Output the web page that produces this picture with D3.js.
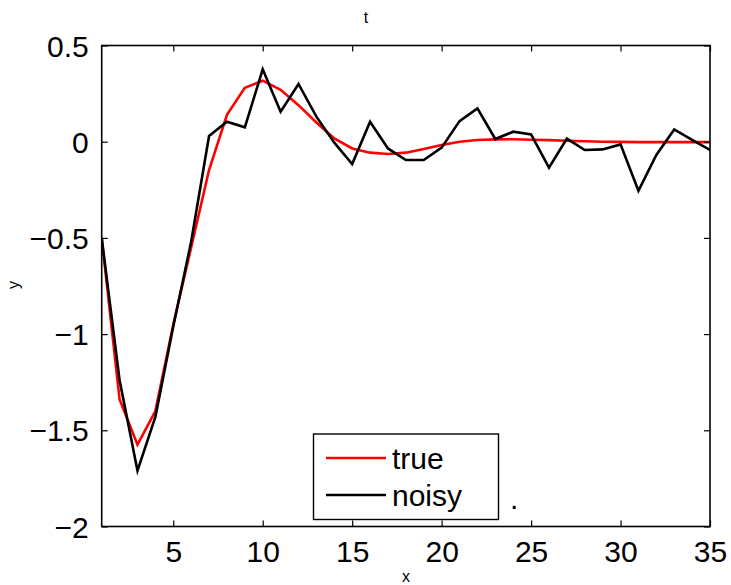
<!DOCTYPE html>
<html><head><meta charset="utf-8">
<script src="https://cdn.jsdelivr.net/npm/d3@7"></script>
<style>body{margin:0;background:#fff}svg{display:block}text{font-family:"Liberation Sans",Arial,sans-serif;fill:#000}</style>
</head><body>
<script>
const tValues = d3.range(1, 36);
const trueValues = [-0.5,-1.34,-1.575,-1.40,-0.95,-0.55,-0.147,0.14,0.28,0.317,0.27,0.19,0.10,0.017,-0.035,-0.057,-0.064,-0.057,-0.038,-0.017,0.0,0.009,0.012,0.013,0.01,0.008,0.005,0.002,0.0,-0.001,-0.002,-0.002,-0.002,-0.002,-0.002];
const noisyValues = [-0.5,-1.24,-1.71,-1.43,-0.96,-0.52,0.03,0.104,0.075,0.376,0.156,0.30,0.13,-0.005,-0.116,0.104,-0.035,-0.095,-0.095,-0.031,0.107,0.173,0.014,0.052,0.038,-0.135,0.016,-0.043,-0.04,-0.014,-0.255,-0.069,0.064,0.009,-0.043];
const xTicks = [5,10,15,20,25,30,35];
const yTicks = [-2,-1.5,-1,-0.5,0,0.5];
const legendLabels = ["true","noisy"];
const seriesColors = ["#ff0000","#000000"];

const W=731,H=585;
const L=101.7,R=710,T=45.5,B=526.5;
const svg=d3.select("body").append("svg").attr("width",W).attr("height",H);
const x=d3.scaleLinear().domain([1,35]).range([L,R]);
const y=d3.scaleLinear().domain([-2,0.5]).range([B,T]);
const fmt=v=>(v<0?"\u2212":"")+Math.abs(v);

// lines
const line=d3.line().x((d,i)=>x(tValues[i])).y(d=>y(d));
svg.append("defs").append("clipPath").attr("id","c").append("rect").attr("x",L).attr("y",T).attr("width",R-L).attr("height",B-T);
const g=svg.append("g").attr("clip-path","url(#c)");
[trueValues,noisyValues].forEach((s,k)=>{
  g.append("path").datum(s).attr("d",line).attr("fill","none").attr("stroke",seriesColors[k]).attr("stroke-width",2.6).attr("stroke-linejoin","miter");
});

// axes
const tl=6;
const axB=svg.append("g").attr("transform",`translate(0,${B})`).call(d3.axisBottom(x).tickValues(xTicks).tickSize(-tl).tickPadding(14).tickFormat(d=>d));
const axT=svg.append("g").attr("transform",`translate(0,${T})`).call(d3.axisTop(x).tickValues(xTicks).tickSize(-tl).tickFormat(""));
const axL=svg.append("g").attr("transform",`translate(${L},0)`).call(d3.axisLeft(y).tickValues(yTicks).tickSize(-tl).tickPadding(13).tickFormat(fmt));
const axR=svg.append("g").attr("transform",`translate(${R},0)`).call(d3.axisRight(y).tickValues(yTicks).tickSize(-tl).tickFormat(""));
[axB,axT,axL,axR].forEach(a=>{
  a.select(".domain").remove();
  a.selectAll(".tick line").attr("stroke","#000").attr("stroke-width",1.2);
  a.selectAll("text").attr("font-size",30).attr("fill","#000").attr("font-family","'Liberation Sans',Arial,sans-serif");
});
axB.selectAll("text").attr("dy","0.71em");
axL.selectAll("text").attr("dy","0.35em");
svg.append("rect").attr("x",L).attr("y",T).attr("width",R-L).attr("height",B-T).attr("fill","none").attr("stroke","#000").attr("stroke-width",1.6);

// labels
svg.append("text").attr("x",366).attr("y",23).attr("text-anchor","middle").attr("font-size",16).attr("fill","#000").text("t");
svg.append("text").attr("x",406).attr("y",582).attr("text-anchor","middle").attr("font-size",16).attr("fill","#000").text("x");
svg.append("text").attr("transform","translate(19,285) rotate(-90)").attr("text-anchor","middle").attr("font-size",16).attr("fill","#000").text("y");

// legend
const lg=svg.append("g");
lg.append("rect").attr("x",313.5).attr("y",434).attr("width",185).attr("height",85.5).attr("fill","#fff").attr("stroke","#000").attr("stroke-width",1.4);
legendLabels.forEach((t,i)=>{
  const yy=458+i*37;
  lg.append("line").attr("x1",326).attr("x2",386).attr("y1",yy).attr("y2",yy).attr("stroke",seriesColors[i]).attr("stroke-width",2.6);
  lg.append("text").attr("x",392).attr("y",yy).attr("dy","0.35em").attr("font-size",30).attr("fill","#000").text(t);
});
svg.append("text").attr("x",510).attr("y",509).attr("font-size",30).attr("fill","#000").text(".");
</script>
</body></html>
